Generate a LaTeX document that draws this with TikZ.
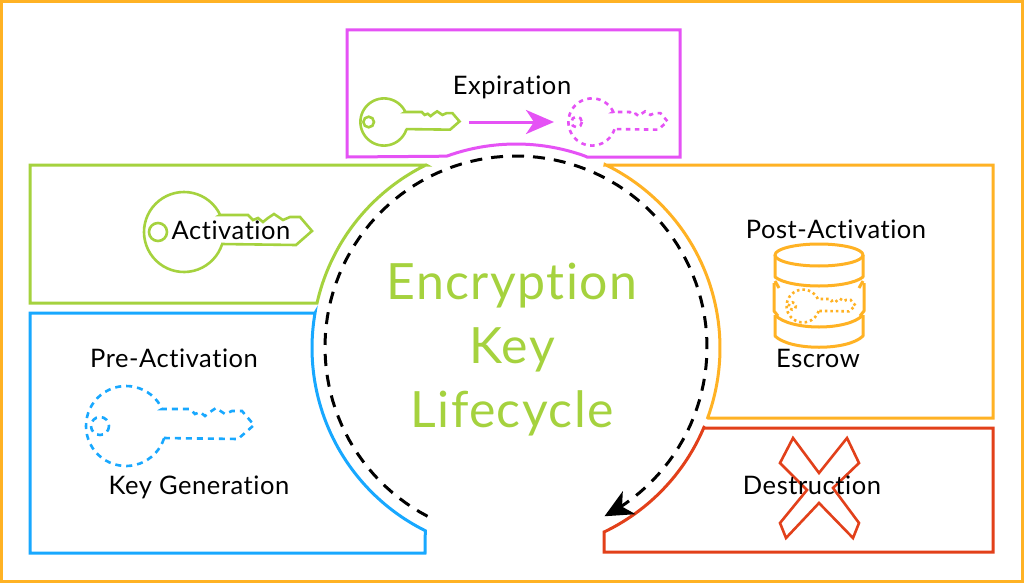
\documentclass[tikz,border=0pt]{standalone}
\usepackage{fontspec}
\setmainfont{Lato}[Ligatures=NoCommon]
\newfontfamily\labfont{Lato}[Ligatures=NoCommon,LetterSpace=2.2]
\newfontfamily\titlefont{Lato}[Ligatures=NoCommon,LetterSpace=2.8]
\usetikzlibrary{arrows.meta}
\definecolor{cgreen}{HTML}{A5D23E}
\definecolor{cmag}{HTML}{E552F5}
\definecolor{cblue}{HTML}{18A8FF}
\definecolor{corange}{HTML}{FFB224}
\definecolor{cred}{HTML}{E2401A}
\tikzset{
 x=1pt,y=-1pt,
 panel/.style={line width=3pt,line join=miter},
 keyline/.style={line width=2.6pt,line join=miter},
 dbline/.style={corange,line width=3pt,line join=round},
 lab/.style={font=\labfont\fontsize{25.5}{28}\selectfont,text=black,inner sep=0pt,anchor=base},
 titletext/.style={font=\titlefont\fontsize{50}{52}\selectfont,text=cgreen,inner sep=0pt,anchor=base},
 ringpart/.style n args={3}{domain=#1:#2,samples=#3},
 keypic/.pic={
  \draw[pic actions] plot[domain=18:334.7,samples=50] ({40*cos(\x)},{40*sin(\x)}) -- (36,-17) -- (64,-17) -- (69,-12) -- (74,-14) -- (79,-10) -- (84,-14) -- (90,-18) -- (99,-12) -- (106,-15) -- (116,-15) -- (128,-1) -- (112,13) -- (37,12);
  \draw[pic actions] (-26,0) circle[radius=9];
 },
}
\begin{document}
\begin{tikzpicture}
\useasboundingbox (0,0) rectangle (1024,583);
\fill[white] (0,0) rectangle (1024,583);
\draw[corange,line width=3pt] (1.5,1.5) rectangle (1022,581);
% panels
\draw[panel,cmag] (347,157) -- (347,30) -- (680,30) -- (680,157) -- (587,157) -- plot[ringpart={289.6}{250.1}{25}] ({516+204*cos(\x)},{348+204*sin(\x)}) -- cycle;
\draw[panel,cgreen] (30,165) -- (426,165) -- plot[ringpart={243.8}{192.7}{40}] ({516+204*cos(\x)},{348+204*sin(\x)}) -- (30,303) -- cycle;
\draw[panel,cblue] (30,313) -- (315,313) -- plot[ringpart={189.9}{116.4}{50}] ({516+204*cos(\x)},{348+204*sin(\x)}) -- (425,553) -- (30,553) -- cycle;
\draw[panel,corange] (605,165) -- (993,165) -- (993,418) -- (708,418) -- plot[ringpart={20}{-64.1}{50}] ({516+204*cos(\x)},{348+204*sin(\x)}) -- cycle;
\draw[panel,cred] (705,428) -- (993,428) -- (993,552) -- (604,552) -- (604,532) -- plot[ringpart={64.4}{22.9}{30}] ({516+204*cos(\x)},{348+204*sin(\x)}) -- cycle;
% dashed cycle
\draw[line width=3pt,dash pattern=on 12pt off 9pt,-{Stealth[length=28pt,width=26pt,inset=8pt]}] plot[domain=117.6:422.4,samples=120] ({516+191*cos(\x)},{347+191*sin(\x)});
% keys
\pic[keyline,cgreen] at (184,232) {keypic};
\pic[keyline,cgreen,scale=.59] at (384,122) {keypic};
\pic[keyline,cmag,scale=.59,dash pattern=on 4.5pt off 4.5pt] at (592,122) {keypic};
\pic[keyline,cblue,dash pattern=on 6pt off 5pt] at (126,426) {keypic};
\pic[keyline,corange,scale=.41,dash pattern=on 2.5pt off 3pt] at (803,306) {keypic};
% arrow
\draw[cmag,line width=3pt,-{Stealth[length=28pt,width=24pt,inset=8pt]}] (469,122) -- (554,122);
% database
\draw[dbline] (819,255) ellipse[x radius=44,y radius=11];
\draw[dbline] (775,255) -- (775,277) .. controls (790,289) and (848,289) .. (863,277) -- (863,255);
\draw[dbline] (775,281) -- (779,288);
\draw[dbline] (863,281) -- (859,288);
\draw[dbline] (774,283) -- (774,311) -- (778,316);
\draw[dbline] (864,283) -- (864,311) -- (860,316);
\draw[dbline] (775,315) -- (775,336) .. controls (790,351) and (848,351) .. (863,336) -- (863,315);
\draw[dbline] (775,315) .. controls (790,331) and (848,331) .. (863,315);
% X
\draw[cred,line width=2.6pt] (793,438) -- (819,473) -- (847,438) -- (859,463) -- (833,488) -- (859,523) -- (853,538) -- (819,503) -- (786,538) -- (780,523) -- (807,490) -- (780,463) -- cycle;
% labels
\node[lab] (exp) at (512,95) {Expiration};
\node[lab] (act) at (231,239) {Activation};
\node[lab] (pre) at (174,367) {Pre-Activation};
\node[lab] (gen) at (199,494) {Key Generation};
\node[lab] (post) at (836,238) {Post-Activation};
\node[lab] (esc) at (818,367) {Escrow};
\node[lab] (des) at (812,494) {Destruction};
\node[titletext] (t1) at (512,299) {Encryption};
\node[titletext] (t2) at (512,363) {Key};
\node[titletext] (t3) at (512,427) {Lifecycle};
\end{tikzpicture}
\end{document}
